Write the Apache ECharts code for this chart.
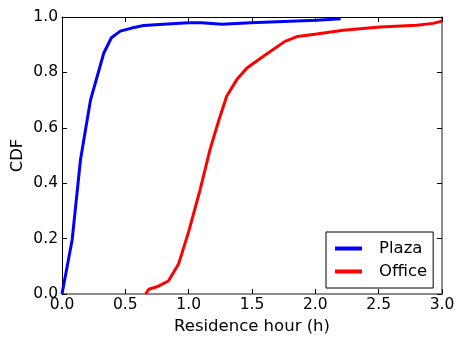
<!DOCTYPE html>
<html>
<head>
<meta charset="utf-8">
<script src="https://cdn.jsdelivr.net/npm/echarts@6/dist/echarts.min.js"></script>
<style>
  html, body { margin: 0; padding: 0; background: #fff; }
  #chart { width: 456px; height: 337px; }
</style>
</head>
<body>
<div id="chart"></div>
<script>
// values
const plazaX = [0, 0.08, 0.146, 0.225, 0.33, 0.39, 0.46, 0.55, 0.645, 0.8, 1.0, 1.1, 1.265, 1.49, 1.75, 2.01, 2.2]
const plazaY = [0, 0.195, 0.485, 0.70, 0.87, 0.925, 0.949, 0.96, 0.969, 0.974, 0.979, 0.979, 0.974, 0.979, 0.984, 0.988, 0.994]
const officeX = [0.66, 0.685, 0.75, 0.84, 0.92, 1.0, 1.09, 1.17, 1.24, 1.30, 1.38, 1.46, 1.59, 1.76, 1.86, 2.01, 2.22, 2.51, 2.80, 2.93, 3.0]
const officeY = [0, 0.017, 0.026, 0.047, 0.108, 0.225, 0.376, 0.524, 0.63, 0.714, 0.774, 0.816, 0.858, 0.912, 0.93, 0.939, 0.952, 0.964, 0.97, 0.977, 0.985]
const xTicks = [0, 3, 0.5]
const yTicks = [0, 1, 0.2]

const pairs = (xs, ys) => xs.map((x, i) => [x, ys[i]])

const chart = echarts.init(document.getElementById('chart'), null, { renderer: 'canvas' })

const font = 'DejaVu Sans'
const frame = { show: true, onZero: false, lineStyle: { color: '#000', width: 1 } }
const frameGray = { show: true, onZero: false, lineStyle: { color: '#666', width: 1.5 } }
const tick = { show: true, inside: true, length: 5, lineStyle: { color: '#000' } }

chart.setOption({
  animation: false,
  textStyle: { fontFamily: font },
  grid: { left: 62, right: 14, top: 17, bottom: 43, containLabel: false, outerBoundsMode: 'none' },
  xAxis: [
    {
      type: 'value', min: xTicks[0], max: xTicks[1], interval: xTicks[2],
      name: 'Residence hour (h)', nameLocation: 'middle', nameGap: 24, nameMoveOverlap: false,
      nameTextStyle: { fontFamily: font, fontSize: 16.5, color: '#000' },
      axisLine: frameGray, axisTick: tick, splitLine: { show: false },
      axisLabel: { fontFamily: font, fontSize: 15.5, color: '#000', margin: 3, formatter: v => v.toFixed(1) },
    },
    {
      type: 'value', position: 'top', min: xTicks[0], max: xTicks[1], interval: xTicks[2],
      axisLine: frame, axisTick: tick, splitLine: { show: false }, axisLabel: { show: false },
    },
  ],
  yAxis: [
    {
      type: 'value', min: yTicks[0], max: yTicks[1], interval: yTicks[2],
      name: 'CDF', nameLocation: 'middle', nameGap: 36, nameMoveOverlap: false,
      nameTextStyle: { fontFamily: font, fontSize: 16.5, color: '#000' },
      axisLine: frame, axisTick: tick, splitLine: { show: false },
      axisLabel: { fontFamily: font, fontSize: 15.5, color: '#000', margin: 4, formatter: v => v.toFixed(1) },
    },
    {
      type: 'value', position: 'right', min: yTicks[0], max: yTicks[1], interval: yTicks[2],
      axisLine: frameGray, axisTick: tick, splitLine: { show: false }, axisLabel: { show: false },
    },
  ],
  legend: {
    orient: 'vertical', left: 326, top: 232,
    backgroundColor: '#fff', borderColor: '#000', borderWidth: 1,
    padding: [8, 6, 8, 9], itemGap: 6,
    itemWidth: 27, itemHeight: 4, icon: 'rect',
    textStyle: { fontFamily: font, fontSize: 16.5, color: '#000', padding: [0, 0, 0, 12] },
    data: ['Plaza', 'Office'],
  },
  series: [
    {
      name: 'Plaza', type: 'line', data: pairs(plazaX, plazaY), showSymbol: false,
      lineStyle: { color: '#0000ff', width: 3 }, itemStyle: { color: '#0000ff' },
    },
    {
      name: 'Office', type: 'line', data: pairs(officeX, officeY), showSymbol: false,
      lineStyle: { color: '#ff0000', width: 3 }, itemStyle: { color: '#ff0000' },
    },
  ],
})
</script>
</body>
</html>
